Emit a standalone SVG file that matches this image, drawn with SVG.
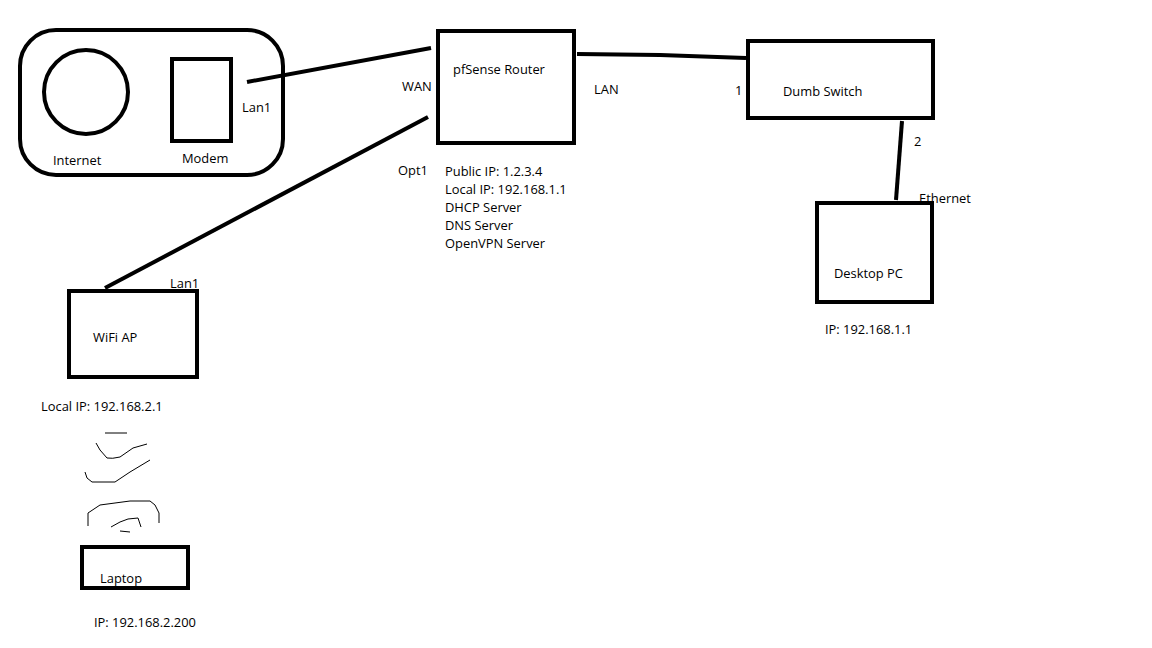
<svg xmlns="http://www.w3.org/2000/svg" width="1152" height="648" viewBox="0 0 1152 648">
<style>
.b{fill:none;stroke:#000;stroke-width:4}
.c{fill:none;stroke:#000;stroke-width:4;stroke-linecap:butt}
.s{fill:none;stroke:#000;stroke-width:1;stroke-linejoin:round}
text{font-family:"Open Sans","Noto Sans","Liberation Sans",sans-serif;font-size:12.9px;fill:#000}
</style>
<rect width="1152" height="648" fill="#fff"/>
<g id="modem-group">
<rect class="b" x="20" y="30" width="263" height="145" rx="36" ry="36"/>
<text x="53" y="165">Internet</text>
<text x="182" y="163">Modem</text>
<text x="242" y="112">Lan1</text>
</g>
<g id="internet"><circle class="b" cx="86" cy="92" r="42" stroke-width="3"/></g>
<g id="modem"><rect class="b" x="172" y="59" width="59" height="82"/></g>
<g id="router">
<rect class="b" x="438" y="31" width="136" height="112"/>
<text x="453" y="74">pfSense Router</text>
<text x="402" y="91">WAN</text>
<text x="594" y="94">LAN</text>
<text x="398" y="175">Opt1</text>
<text x="445" y="176">Public IP: 1.2.3.4</text>
<text x="445" y="194">Local IP: 192.168.1.1</text>
<text x="445" y="212">DHCP Server</text>
<text x="445" y="230">DNS Server</text>
<text x="445" y="248">OpenVPN Server</text>
</g>
<g id="switch">
<rect class="b" x="748" y="41" width="185" height="77"/>
<text x="783" y="96">Dumb Switch</text>
<text x="735" y="95">1</text>
<text x="914" y="146">2</text>
</g>
<g id="desktop">
<rect class="b" x="817" y="203" width="115" height="99"/>
<text x="919" y="203">Ethernet</text>
<text x="834" y="278">Desktop PC</text>
<text x="825" y="334">IP: 192.168.1.1</text>
</g>
<g id="wifi-ap">
<rect class="b" x="69" y="291" width="128" height="86"/>
<text x="170" y="288">Lan1</text>
<text x="93" y="342">WiFi AP</text>
<text x="41" y="411">Local IP: 192.168.2.1</text>
</g>
<g id="laptop">
<rect class="b" x="82" y="547" width="106" height="41"/>
<text x="100" y="583">Laptop</text>
<text x="94" y="627">IP: 192.168.2.200</text>
</g>
<g id="connectors">
<line class="c" x1="247" y1="82" x2="431" y2="48"/>
<line class="c" x1="105" y1="288" x2="428" y2="117"/>
<polyline class="c" points="577,54 660,55 746,58"/>
<line class="c" x1="902" y1="121" x2="896" y2="200"/>
</g>
<g id="wireless">
<path class="s" d="M105,433 L127,433"/>
<path class="s" d="M96,443 L100,450 L107,458 Q112,459 120,457 L133,448 L147,444"/>
<path class="s" d="M85,472 L87,478 L92,482 L115,482 L130,472 L150,460"/>
<path class="s" d="M88,526 L88,513 L100,505 L130,501 L150,501 L155,505 L159,513 L159,523"/>
<path class="s" d="M111,527 L120,522 L128,519 L138,518 L141,527"/>
<path class="s" d="M120,531 L130,532"/>
</g>
</svg>
